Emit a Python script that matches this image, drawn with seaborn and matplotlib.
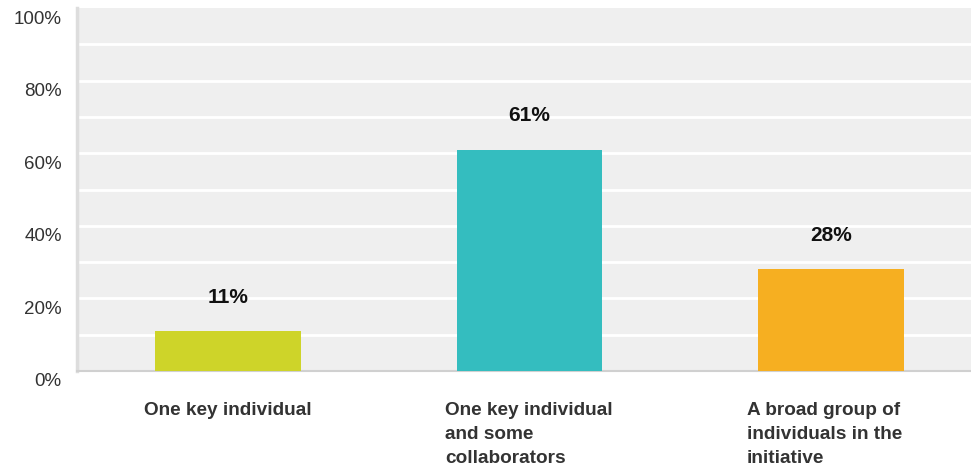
import matplotlib
matplotlib.use("Agg")
import matplotlib.pyplot as plt
import matplotlib.transforms as mtransforms
import seaborn as sns
import pandas as pd

categories = ["One key individual",
              "One key individual\nand some\ncollaborators",
              "A broad group of\nindividuals in the\ninitiative"]
values = [11, 61, 28]
value_labels = ["11%", "61%", "28%"]
colors = ["#CED429", "#34BDBF", "#F6AF21"]
y_ticks = [0, 20, 40, 60, 80, 100]
y_tick_labels = ["0%", "20%", "40%", "60%", "80%", "100%"]

sns.set_theme(style="white")
plt.rcParams['font.family'] = ['Liberation Sans', 'DejaVu Sans']

df = pd.DataFrame({"cat": categories, "val": values})

fig = plt.figure(figsize=(9.71, 4.70), dpi=100)
ax = fig.add_axes([77/971, 99/470, 894/971, 363/470])
ax.set_facecolor("#EFEFEF")

sns.barplot(data=df, x="cat", y="val", hue="cat", palette=colors,
            legend=False, width=0.483, ax=ax, saturation=1, zorder=3,
            linewidth=0, edgecolor="none")

ax.set_ylim(0, 100)
ax.set_xlim(-0.5, 2.464)
for g in range(10, 100, 10):
    ax.axhline(g, color="white", lw=2, zorder=1)

ax.set_yticks(y_ticks)
ax.set_yticklabels(y_tick_labels, fontsize=13.5, color="#333333")
ax.tick_params(axis="y", length=0, pad=11)
yoff = mtransforms.ScaledTranslation(0, -0.09, fig.dpi_scale_trans)
for lab in ax.get_yticklabels():
    lab.set_transform(lab.get_transform() + yoff)

ax.set_xticks(range(len(categories)))
ax.set_xticklabels(categories, fontsize=13.7, fontweight="bold", color="#333333",
                   ha="left", va="top", linespacing=1.55)
ax.tick_params(axis="x", length=0, pad=22)
xoff = mtransforms.ScaledTranslation(-0.84, 0, fig.dpi_scale_trans)
for lab in ax.get_xticklabels():
    lab.set_transform(lab.get_transform() + xoff)

ax.set_xlabel("")
ax.set_ylabel("")

for i, (v, t) in enumerate(zip(values, value_labels)):
    ax.annotate(t, (i, v), xytext=(0, 34), textcoords="offset pixels",
                ha="center", va="center", fontsize=15, fontweight="bold",
                color="#111111", zorder=4)

for s in ["top", "right"]:
    ax.spines[s].set_visible(False)
ax.spines["left"].set_color("#DDDDDD")
ax.spines["left"].set_linewidth(2.5)
ax.spines["bottom"].set_color("#D0D0D0")
ax.spines["bottom"].set_linewidth(1.5)

fig.savefig("out.png", dpi=100)
